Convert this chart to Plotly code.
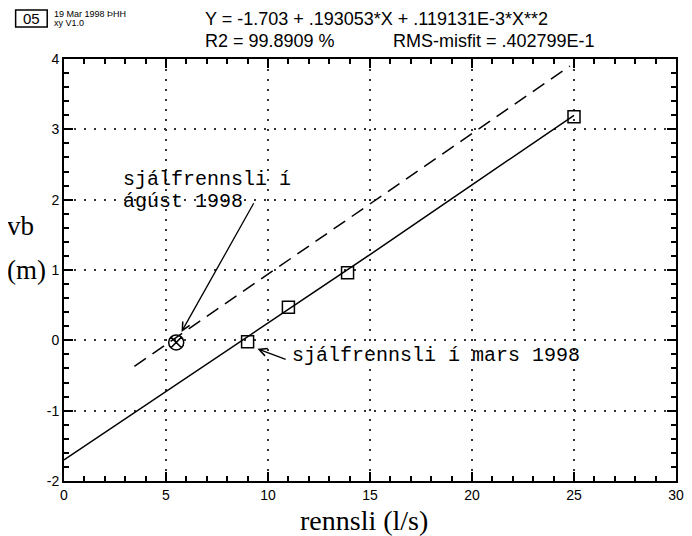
import plotly.graph_objects as go

# ---- data ----
flow_mars = [9.0, 11.0, 13.9, 25.0]          # rennsli (l/s), squares
head_mars = [-0.02, 0.47, 0.96, 3.18]        # vb (m)
flow_aug = [5.5]                              # circled X point
head_aug = [-0.03]
fit_flow = [0, 5, 10, 15, 20, 25]             # solid fitted curve
fit_head = [-1.70, -0.73, 0.24, 1.22, 2.21, 3.20]
dash_flow = [3.45, 24.8]                      # dashed line
dash_head = [-0.37, 3.90]

x_ticks = [0, 5, 10, 15, 20, 25, 30]
y_ticks = [-2, -1, 0, 1, 2, 3, 4]

header_eq = "Y = -1.703 + .193053*X + .119131E-3*X**2"
header_r2 = "R2 = 99.8909 %"
header_rms = "RMS-misfit = .402799E-1"

serif = "Liberation Serif, Times New Roman, serif"
mono = "Courier New, Liberation Mono, monospace"
sans = "Liberation Sans, Arial, sans-serif"

fig = go.Figure()
fig.add_trace(go.Scatter(x=fit_flow, y=fit_head, mode="lines",
                         line=dict(color="black", width=1.5), showlegend=False))
fig.add_trace(go.Scatter(x=dash_flow, y=dash_head, mode="lines",
                         line=dict(color="black", width=1.5, dash="14px,8px"), showlegend=False))
fig.add_trace(go.Scatter(x=flow_mars, y=head_mars, mode="markers",
                         marker=dict(symbol="square-open", size=12, color="black",
                                     line=dict(width=1.5, color="black")), showlegend=False))
fig.add_trace(go.Scatter(x=flow_aug, y=head_aug, mode="markers",
                         marker=dict(symbol="circle-x-open", size=15, color="black",
                                     line=dict(width=1.5, color="black")), showlegend=False))

axis_common = dict(
    showline=True, linecolor="black", linewidth=2, mirror="allticks",
    ticks="inside", ticklen=9, tickwidth=1.5, tickcolor="black",
    showgrid=True, gridcolor="#333333", gridwidth=1.5, griddash="2px,8px",
    zeroline=False, tickfont=dict(family=sans, size=14, color="black"),
)
fig.update_xaxes(range=[0, 30], tickvals=x_ticks, ticktext=[str(v) for v in x_ticks],
                 minor=dict(dtick=1, ticks="inside", ticklen=5, tickwidth=1.5,
                            tickcolor="black", showgrid=False),
                 **axis_common)
fig.update_yaxes(range=[-2, 4], tickvals=y_ticks, ticktext=[str(v) for v in y_ticks],
                 minor=dict(dtick=0.2, ticks="inside", ticklen=5, tickwidth=1.5,
                            tickcolor="black", showgrid=False),
                 **axis_common)

# plot area in window pixels: x 64..684, y 59..481
def px(xp):
    return (xp - 64) / 620.0

def py(yp):
    return (481 - yp) / 422.0

ann = []
# arrows
ann.append(dict(x=5.76, y=0.12, ax=9.34, ay=1.97, xref="x", yref="y", axref="x", ayref="y",
                showarrow=True, arrowhead=5, arrowsize=1.2, arrowwidth=1.3, arrowcolor="black", text=""))
ann.append(dict(x=9.48, y=-0.12, ax=10.94, ay=-0.28, xref="x", yref="y", axref="x", ayref="y",
                showarrow=True, arrowhead=5, arrowsize=1.2, arrowwidth=1.3, arrowcolor="black", text=""))
# typed labels
ann.append(dict(x=2.81, y=2.28, xref="x", yref="y", text="sjálfrennsli í", showarrow=False,
                xanchor="left", yanchor="middle", font=dict(family=mono, size=20, color="black")))
ann.append(dict(x=2.81, y=1.97, xref="x", yref="y", text="ágúst 1998", showarrow=False,
                xanchor="left", yanchor="middle", font=dict(family=mono, size=20, color="black")))
ann.append(dict(x=11.08, y=-0.21, xref="x", yref="y", text="sjálfrennsli í mars 1998", showarrow=False,
                xanchor="left", yanchor="middle", font=dict(family=mono, size=20, color="black")))
# axis titles
ann.append(dict(x=px(20), y=py(226), xref="paper", yref="paper", text="vb", showarrow=False,
                xanchor="center", yanchor="middle", font=dict(family=serif, size=27, color="black")))
ann.append(dict(x=px(26), y=py(270), xref="paper", yref="paper", text="(m)", showarrow=False,
                xanchor="center", yanchor="middle", font=dict(family=serif, size=27, color="black")))
ann.append(dict(x=px(368), y=py(520), xref="paper", yref="paper", text="rennsli (l/s)", showarrow=False,
                xanchor="center", yanchor="middle", font=dict(family=serif, size=28, color="black")))
# header
ann.append(dict(x=px(31), y=py(18), xref="paper", yref="paper", text="05", showarrow=False,
                xanchor="center", yanchor="middle", font=dict(family=sans, size=15, color="black")))
ann.append(dict(x=px(52), y=py(14), xref="paper", yref="paper",
                text="19 Mar 1998 ÞHH", showarrow=False, xanchor="left", yanchor="middle",
                font=dict(family=sans, size=9, color="black")))
ann.append(dict(x=px(52), y=py(23), xref="paper", yref="paper",
                text="xy V1.0", showarrow=False, xanchor="left", yanchor="middle",
                font=dict(family=sans, size=9, color="black")))
ann.append(dict(x=px(205), y=py(19), xref="paper", yref="paper",
                text=header_eq, showarrow=False, xanchor="left", yanchor="middle",
                font=dict(family=sans, size=18, color="black")))
ann.append(dict(x=px(205), y=py(41), xref="paper", yref="paper",
                text=header_r2, showarrow=False, xanchor="left", yanchor="middle",
                font=dict(family=sans, size=18, color="black")))
ann.append(dict(x=px(395), y=py(41), xref="paper", yref="paper",
                text=header_rms, showarrow=False, xanchor="left", yanchor="middle",
                font=dict(family=sans, size=18, color="black")))

fig.add_shape(type="rect", xref="paper", yref="paper",
              x0=px(15), x1=px(47), y0=py(27), y1=py(10),
              line=dict(color="black", width=1.5))

# the page body adds an 8px margin, so the figure is sized to fit the 692x536 window
fig.update_layout(
    width=684, height=528,
    margin=dict(l=56, r=8, t=51, b=55),
    paper_bgcolor="white", plot_bgcolor="white",
    annotations=ann, showlegend=False,
)
fig.write_html("out.html")
